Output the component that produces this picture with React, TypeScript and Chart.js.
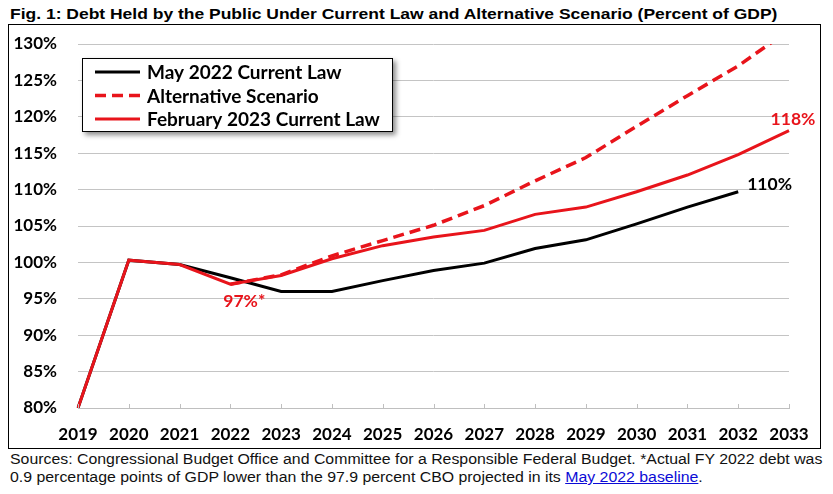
import React, { useEffect, useRef } from 'react';
import { Chart, registerables } from 'chart.js';

Chart.register(...registerables);

const years = ['2019', '2020', '2021', '2022', '2023', '2024', '2025', '2026', '2027', '2028', '2029', '2030', '2031', '2032', '2033'];
const may2022CurrentLaw = [80, 100.3, 99.7, 97.9, 96.0, 96.0, 97.5, 98.9, 99.9, 101.9, 103.1, 105.3, 107.6, 109.7, null];
const alternativeScenario = [null, null, null, 97.0, 98.3, 100.9, 103.0, 105.1, 107.8, 111.2, 114.4, 118.7, 122.9, 127.0, 131.9];
const feb2023CurrentLaw = [80, 100.3, 99.7, 97.0, 98.2, 100.5, 102.3, 103.5, 104.4, 106.6, 107.6, 109.7, 112.0, 114.8, 118.1];
const seriesLabels = ['May 2022 Current Law', 'Alternative Scenario', 'February 2023 Current Law'];
const yMin = 80;
const yMax = 130;
const yStep = 5;
const pointLabelSeries = [2, 0, 2];
const pointLabelIndex = [3, 13, 14];
const pointLabelText = ['97%*', '110%', '118%'];

const RED = '#e8141b';
const FONT = 'Lato, "Open Sans", sans-serif';

const boxLegend = {
  id: 'boxLegend',
  afterDatasetsDraw(chart: any) {
    const { ctx, chartArea } = chart;
    const left = chartArea.left + 4;
    const top = chartArea.top + 14;
    const w = 311;
    const h = 74;
    ctx.save();
    ctx.shadowColor = 'rgba(0,0,0,0.45)';
    ctx.shadowBlur = 5;
    ctx.shadowOffsetX = 3;
    ctx.shadowOffsetY = 3;
    ctx.fillStyle = '#fff';
    ctx.fillRect(left, top, w, h);
    ctx.shadowColor = 'transparent';
    ctx.shadowBlur = 0;
    ctx.shadowOffsetX = 0;
    ctx.shadowOffsetY = 0;
    ctx.strokeStyle = '#000';
    ctx.lineWidth = 1;
    ctx.strokeRect(left + 0.5, top + 0.5, w - 1, h - 1);
    chart.data.datasets.forEach((ds: any, i: number) => {
      const y = top + 14 + i * 23.5;
      ctx.beginPath();
      ctx.setLineDash(ds.borderDash || []);
      ctx.strokeStyle = ds.borderColor;
      ctx.lineWidth = ds.borderWidth;
      ctx.moveTo(left + 13, y);
      ctx.lineTo(left + 58, y);
      ctx.stroke();
      ctx.setLineDash([]);
      ctx.fillStyle = '#000';
      ctx.font = `bold 19px ${FONT}`;
      ctx.textBaseline = 'middle';
      ctx.textAlign = 'left';
      ctx.fillText(ds.label, left + 65, y + 1);
    });
    ctx.restore();
  },
};

const pointLabelsPlugin = {
  id: 'pointLabels',
  afterDatasetsDraw(chart: any) {
    const { ctx } = chart;
    ctx.save();
    ctx.font = `bold 17.5px ${FONT}`;
    ctx.textBaseline = 'middle';
    pointLabelText.forEach((text, k) => {
      const meta = chart.getDatasetMeta(pointLabelSeries[k]);
      const pt = meta.data[pointLabelIndex[k]];
      if (!pt) return;
      const color = chart.data.datasets[pointLabelSeries[k]].borderColor;
      ctx.fillStyle = color;
      if (k === 0) {
        ctx.textAlign = 'center';
        ctx.fillText(text, pt.x + 14, pt.y + 17);
      } else if (k === 1) {
        ctx.textAlign = 'left';
        ctx.fillText(text, pt.x + 9, pt.y - 7);
      } else {
        ctx.textAlign = 'center';
        ctx.fillText(text, pt.x + 4, pt.y - 11);
      }
    });
    ctx.restore();
  },
};

const innerTicks = {
  id: 'innerTicks',
  afterDraw(chart: any) {
    const { ctx, chartArea } = chart;
    const xs = chart.scales.x;
    ctx.save();
    ctx.strokeStyle = '#bfbfbf';
    ctx.lineWidth = 1;
    years.forEach((_, i) => {
      const x = Math.round(xs.getPixelForValue(i)) + 0.5;
      ctx.beginPath();
      ctx.moveTo(x, chartArea.bottom);
      ctx.lineTo(x, chartArea.bottom - 4);
      ctx.stroke();
    });
    ctx.restore();
  },
};

export default function App() {
  const ref = useRef<HTMLCanvasElement | null>(null);

  useEffect(() => {
    if (!ref.current) return;
    const chart = new Chart(ref.current, {
      type: 'line',
      data: {
        labels: years,
        datasets: [
          {
            label: seriesLabels[0],
            data: may2022CurrentLaw,
            borderColor: '#000000',
            borderWidth: 3,
            pointRadius: 0,
            tension: 0,
            order: 2,
          },
          {
            label: seriesLabels[1],
            data: alternativeScenario,
            borderColor: RED,
            borderWidth: 3.5,
            borderDash: [11, 6],
            pointRadius: 0,
            tension: 0,
            order: 1,
          },
          {
            label: seriesLabels[2],
            data: feb2023CurrentLaw,
            borderColor: RED,
            borderWidth: 3,
            pointRadius: 0,
            tension: 0,
            order: 0,
          },
        ],
      },
      options: {
        animation: false,
        responsive: false,
        events: [],
        layout: { padding: { top: 19, right: 31, bottom: 0, left: 0 } },
        plugins: {
          legend: { display: false },
          title: { display: false },
          tooltip: { enabled: false },
        },
        scales: {
          x: {
            type: 'category',
            offset: false,
            grid: {
              display: true,
              color: 'rgba(0,0,0,0)',
              drawTicks: true,
              tickLength: 13,
              tickColor: 'rgba(0,0,0,0)',
            },
            border: { display: true, color: '#bfbfbf', width: 1 },
            ticks: {
              color: '#000',
              font: { family: FONT, size: 17, weight: 'bold' },
              padding: 3,
              maxRotation: 0,
              autoSkip: false,
            },
            afterFit(scale: any) {
              scale.height = 40;
            },
          },
          y: {
            min: yMin,
            max: yMax,
            grid: {
              color: '#c4c4c4',
              lineWidth: 1,
              drawTicks: true,
              tickLength: 18,
              tickColor: 'rgba(0,0,0,0)',
            },
            border: { display: false },
            ticks: {
              stepSize: yStep,
              color: '#000',
              font: { family: FONT, size: 17, weight: 'bold' },
              padding: 3,
              callback: (v: any) => `${v}%`,
            },
            afterFit(scale: any) {
              scale.width = 69;
            },
          },
        },
      } as any,
      plugins: [innerTicks, pointLabelsPlugin, boxLegend],
    });
    return () => chart.destroy();
  }, []);

  return (
    <div style={{ position: 'absolute', left: 0, top: 0, width: 833, height: 494, background: '#fff' }}>
      <div
        style={{
          position: 'absolute',
          left: 10,
          top: 5,
          fontFamily: '"Liberation Sans", Arial, sans-serif',
          fontWeight: 'bold',
          fontSize: 15,
          lineHeight: '17px',
          color: '#000',
          whiteSpace: 'nowrap',
          transform: 'scaleX(1.165)',
          transformOrigin: '0 0',
        }}
      >
        Fig. 1: Debt Held by the Public Under Current Law and Alternative Scenario (Percent of GDP)
      </div>
      <div
        style={{
          position: 'absolute',
          left: 8,
          top: 24,
          width: 811,
          height: 423,
          border: '1px solid #000',
        }}
      >
        <canvas ref={ref} width={811} height={423} style={{ display: 'block' }} />
      </div>
      <div
        style={{
          position: 'absolute',
          left: 10,
          top: 450,
          fontFamily: '"Liberation Sans", Arial, sans-serif',
          fontSize: 14,
          lineHeight: '18px',
          color: '#111',
          whiteSpace: 'nowrap',
          transform: 'scaleX(1.133)',
          transformOrigin: '0 0',
        }}
      >
        <div>
          Sources: Congressional Budget Office and Committee for a Responsible Federal Budget. *Actual FY 2022 debt was
        </div>
        <div>
          0.9 percentage points of GDP lower than the 97.9 percent CBO projected in its{' '}
          <span style={{ color: '#0b0bd6', textDecoration: 'underline' }}>May 2022 baseline</span>.
        </div>
      </div>
    </div>
  );
}
